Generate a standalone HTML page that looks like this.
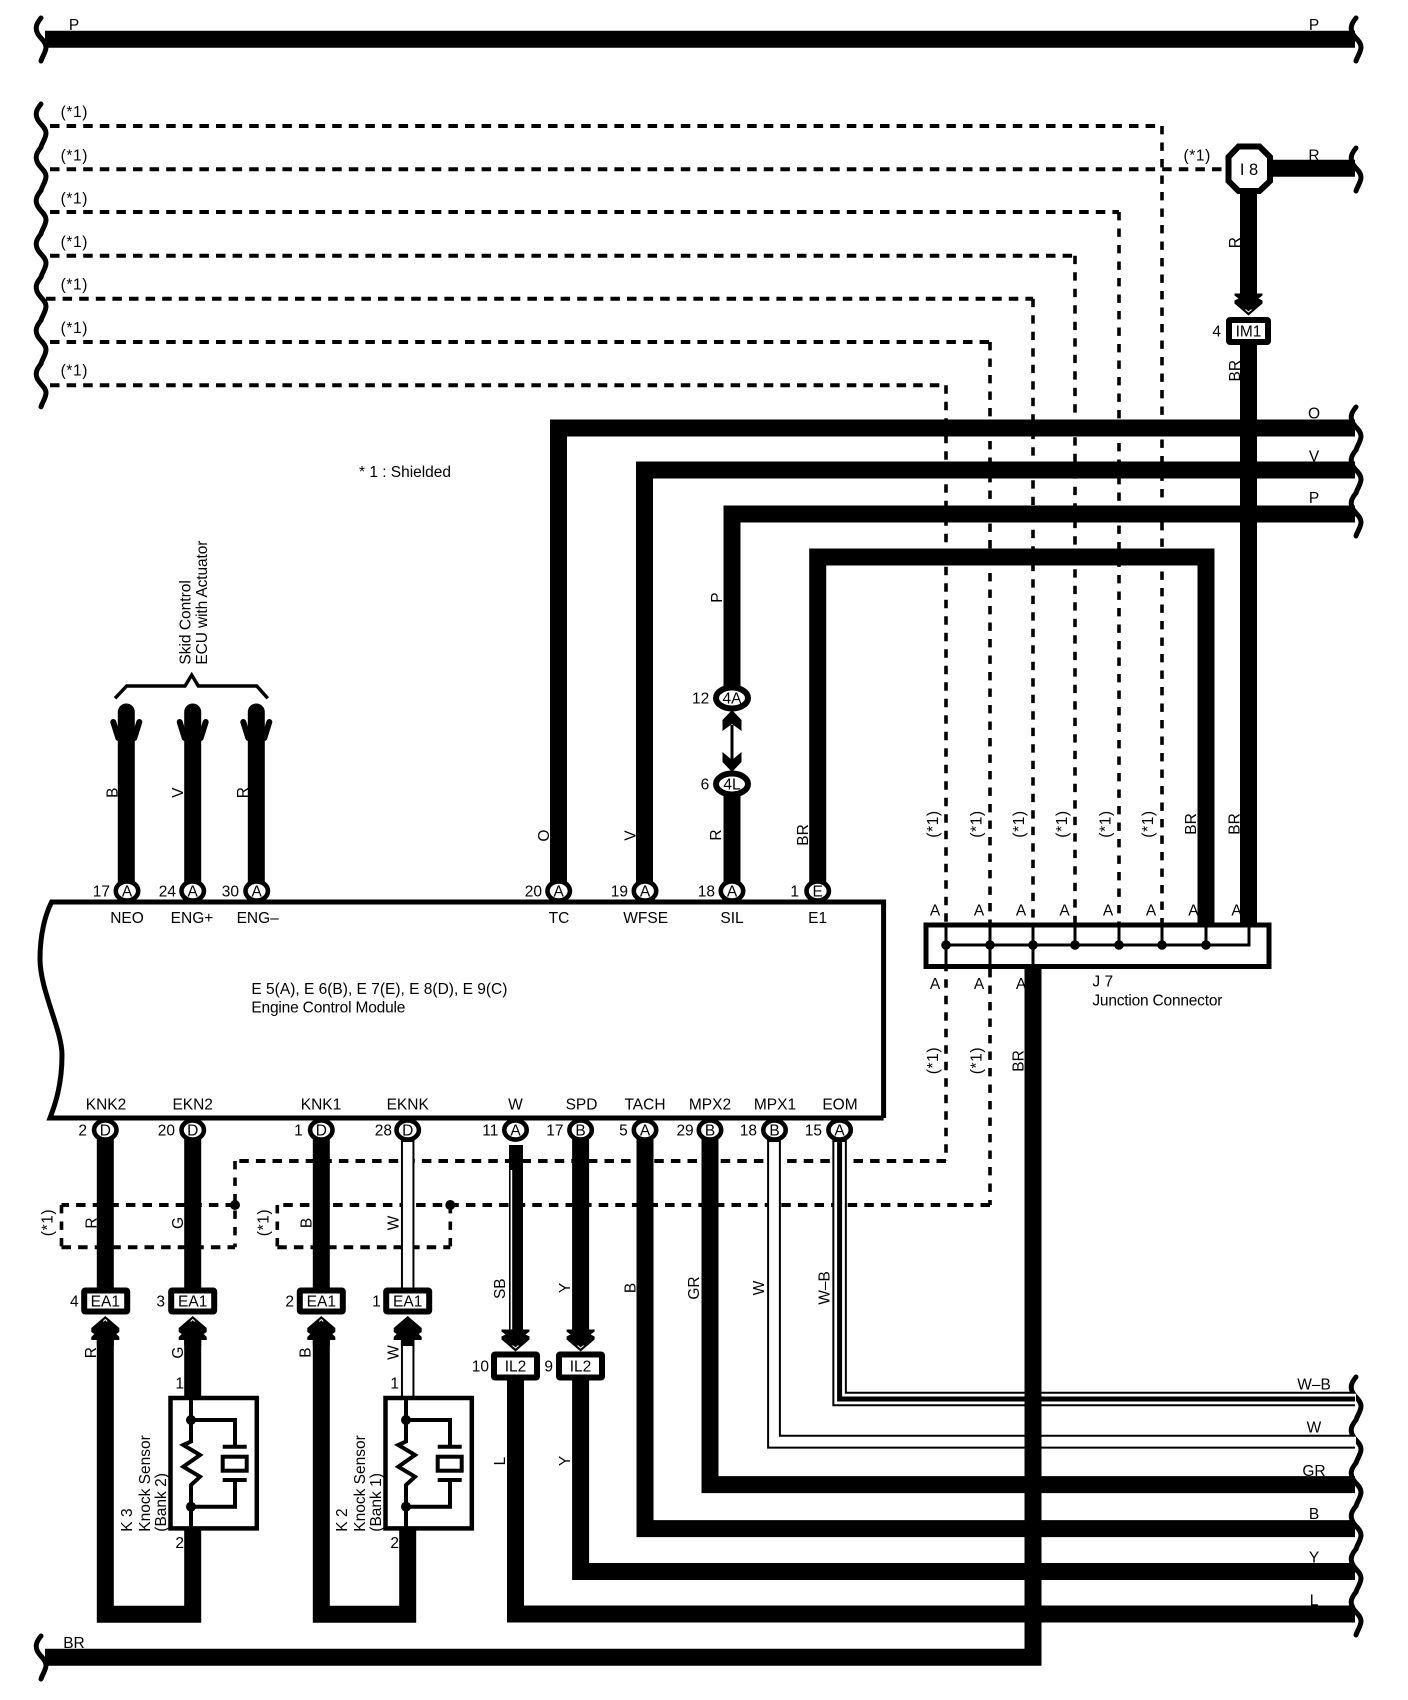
<!DOCTYPE html>
<html><head><meta charset="utf-8"><style>
html,body{margin:0;padding:0;background:#fff}
svg{display:block}
text{font-family:"Liberation Sans",sans-serif;font-size:15.5px;fill:#000}
.m{text-anchor:middle}.e{text-anchor:end}
.s{letter-spacing:.6px}
.w{fill:none;stroke:#000;stroke-width:17}
.t{fill:none;stroke:#000;stroke-width:4}
.d{fill:none;stroke:#000;stroke-width:4;stroke-dasharray:9.5 7.1}
.v{fill:none;stroke:#000;stroke-width:3.6;stroke-dasharray:8.4 8.1}
.o{fill:#fff;stroke:#000;stroke-width:6}
.c{fill:#fff;stroke:#000;stroke-width:4.6}
</style></head><body>
<svg width="1408" height="1700" viewBox="0 0 1408 1700" xmlns="http://www.w3.org/2000/svg">
<defs>
<path id="sq" d="M41,0 C37,5 35,9 37,14 C39,20 46,23 46,29 C46,34 43,37 41,43" fill="none" stroke="#000" stroke-width="5" stroke-linecap="round"/>
<g id="up"><polygon points="0,0 14,12 14,16 11,18 14,21 14,24 8.5,24 8.5,30 -8.5,30 -8.5,24 -14,24 -14,21 -11,18 -14,16 -14,12" fill="#000"/><polyline points="-2,5.5 0,3.5 2,5.5" fill="none" stroke="#fff" stroke-width="1"/></g>
<g id="dn"><polygon points="0,0 14,-12 14,-15 10,-17 14,-20 14,-22 -14,-22 -14,-20 -10,-17 -14,-15 -14,-12" fill="#000"/><polyline points="-3,-6 0,-3.5 3,-6" fill="none" stroke="#fff" stroke-width="1"/></g>
<g id="fork"><path d="M-8,34 L-13,18 M8,34 L13,18" fill="none" stroke="#000" stroke-width="6" stroke-linecap="round"/></g>
<g id="sens">
<rect x="-22.2" y="0" width="86.3" height="130.4" fill="#fff" stroke="#000" stroke-width="4.5"/>
<path class="t" d="M-1.7,0 V43.5 L-9.4,47 L7.3,57 L-9.4,68.7 L7.3,78.7 L-1.7,87 V132"/>
<path class="t" d="M-1.7,22 H42.3 V48.7 M30,48.7 H54 M30,82 H54 M42.3,82 V108.7 H-1.7"/>
<rect x="30" y="58.7" width="24" height="14" fill="#fff" stroke="#000" stroke-width="4"/>
<circle cx="-1.7" cy="22" r="5" fill="#000"/><circle cx="-1.7" cy="108.7" r="5" fill="#000"/>
</g>
</defs>

<!-- dashed lines -->
<path class="d" d="M50,126 H1162 M50,169.3 H1226 M50,212 H1119 M50,255.7 H1075 M46,298.7 H1033 M50,342 H990 M50,385.3 H946"/>
<path class="v" d="M1162,126 V923 M1119,212 V923 M1075,255.7 V923 M1033,298.7 V923 M990,342 V1205 M946,385.3 V1161"/>
<path class="d" d="M946,1161 H235 M990,1205 H277.3 M235,1205 H61.5 M61.5,1247.3 H235 M277.3,1247.3 H450.3"/>
<path class="v" d="M235,1161 V1247.3 M61.5,1205 V1247.3 M277.3,1205 V1247.3 M450.3,1205 V1247.3"/>
<circle cx="235" cy="1205" r="5" fill="#000"/><circle cx="450.3" cy="1205" r="5" fill="#000"/>

<!-- squiggles -->
<use href="#sq" x="0" y="18"/>
<use href="#sq" x="0" y="104"/><use href="#sq" x="0" y="147.3"/><use href="#sq" x="0" y="190.6"/><use href="#sq" x="0" y="233.9"/><use href="#sq" x="0" y="277.2"/><use href="#sq" x="0" y="320.5"/><use href="#sq" x="0" y="363.8"/>
<use href="#sq" x="0" y="1636"/>
<use href="#sq" x="1315" y="18"/><use href="#sq" x="1315" y="148"/>
<use href="#sq" x="1315" y="407"/><use href="#sq" x="1315" y="450"/><use href="#sq" x="1315" y="493"/>
<use href="#sq" x="1315" y="1377"/><use href="#sq" x="1315" y="1420"/><use href="#sq" x="1315" y="1463"/><use href="#sq" x="1315" y="1506"/><use href="#sq" x="1315" y="1549"/><use href="#sq" x="1315" y="1592"/>

<!-- thick wires -->
<path class="w" d="M45,39.3 H1355"/>
<path class="w" d="M1249,168.3 H1355"/>
<path class="w" d="M558.5,891 V428 H1355"/>
<path class="w" d="M644.5,891 V470 H1355"/>
<path class="w" d="M732,698 V514 H1355"/>
<path class="w" d="M817.7,891 V557 H1206 V923"/>
<path class="w" d="M1248.5,190 V298 M1248.5,330 V923"/>
<path class="w" d="M732,784 V891"/>
<path class="t" style="stroke-width:3" d="M732,725 V760"/>
<path class="w" stroke-linecap="round" d="M126.3,712 V891 M192.7,712 V891 M256.3,712 V891"/>
<use href="#fork" x="126.3" y="704"/><use href="#fork" x="192.7" y="704"/><use href="#fork" x="256.3" y="704"/>
<polygon points="732,710 741.5,720 741.5,731 732,724 722.5,731 722.5,720" fill="#000"/>
<polygon points="722.5,752 732,760 741.5,752 741.5,762 732,772 722.5,762" fill="#000"/>
<polyline points="115,698.3 126.7,686 185,686 191.7,675 198.3,686 256.7,686 267.7,698.3" fill="none" stroke="#000" stroke-width="3.4"/>

<path class="w" d="M105.3,1130 V1295 M105.3,1335 V1614.3 H192.7 V1530 M192.7,1130 V1295 M192.7,1335 V1396"/>
<path class="w" d="M321.3,1130 V1295 M321.3,1335 V1614.3 H407.7 V1530"/>
<path class="w" d="M580.6,1130 V1335 M580.6,1370 V1571.5 H1355"/>
<path class="w" d="M645,1130 V1528.6 H1355"/>
<path class="w" d="M710,1130 V1484.6 H1355"/>
<path class="w" d="M515.5,1370 V1614 H1355"/>
<!-- SB -->
<rect x="509" y="1145" width="14" height="190" fill="#000"/><rect x="510.6" y="1170" width="1.6" height="160" fill="#fff"/>
<!-- white wires -->
<path fill="none" stroke="#000" stroke-width="13.5" d="M407.7,1130 V1295 M407.7,1330 V1396"/>
<path fill="none" stroke="#fff" stroke-width="9.5" d="M407.7,1142 V1290 M407.7,1346 V1396"/>
<path fill="none" stroke="#000" stroke-width="13.8" d="M774,1130 V1441.7 H1355"/>
<path fill="none" stroke="#fff" stroke-width="9.8" d="M774,1142 V1441.7 H1356"/>
<path fill="none" stroke="#000" stroke-width="14.5" d="M839.6,1130 V1399 H1355"/>
<path fill="none" stroke="#fff" stroke-width="10.5" d="M839.6,1142 V1399 H1356"/>
<path fill="none" stroke="#000" stroke-width="5" d="M839.6,1130 V1399 H1355"/>

<!-- J7 -->
<rect x="926" y="925" width="343" height="41.5" fill="#fff" stroke="#000" stroke-width="5"/>
<path class="t" style="stroke-width:3" d="M946,923 V968 M990,923 V968 M1033,923 V968 M1075,923 V945 M1119,923 V945 M1162,923 V945 M1206,923 V945 M946,945 H1249 V923"/>
<circle cx="946" cy="945" r="4.8"/><circle cx="990" cy="945" r="4.8"/><circle cx="1033" cy="945" r="4.8"/><circle cx="1075" cy="945" r="4.8"/><circle cx="1119" cy="945" r="4.8"/><circle cx="1162" cy="945" r="4.8"/><circle cx="1206" cy="945" r="4.8"/>
<path class="w" d="M1033,966 V1657.3 H45"/>

<!-- ECM -->
<path fill="none" stroke="#000" stroke-width="5" d="M883.6,1118 H50 C55,1105 62,1085 62,1055 C62,1030 40,990 40,959 C40,935 45,915 51.6,902 H883.6 V1118"/>

<!-- connectors -->
<g class="c">
<ellipse cx="127" cy="891" rx="11.2" ry="9.6"/><ellipse cx="192.7" cy="891" rx="11.2" ry="9.6"/><ellipse cx="256.7" cy="891" rx="11.2" ry="9.6"/><ellipse cx="558.7" cy="891" rx="11.2" ry="9.6"/><ellipse cx="645" cy="891" rx="11.2" ry="9.6"/><ellipse cx="732" cy="891" rx="11.2" ry="9.6"/><ellipse cx="817.7" cy="891" rx="11.2" ry="9.6"/>
<ellipse cx="105.3" cy="1130" rx="11.2" ry="9.6"/><ellipse cx="192.7" cy="1130" rx="11.2" ry="9.6"/><ellipse cx="321.3" cy="1130" rx="11.2" ry="9.6"/><ellipse cx="407.7" cy="1130" rx="11.2" ry="9.6"/><ellipse cx="515.5" cy="1130" rx="11.2" ry="9.6"/><ellipse cx="580.6" cy="1130" rx="11.2" ry="9.6"/><ellipse cx="645" cy="1130" rx="11.2" ry="9.6"/><ellipse cx="710" cy="1130" rx="11.2" ry="9.6"/><ellipse cx="774.5" cy="1130" rx="11.2" ry="9.6"/><ellipse cx="839.6" cy="1130" rx="11.2" ry="9.6"/>
</g>
<g class="o">
<ellipse cx="732" cy="698" rx="16" ry="10.5"/><ellipse cx="732" cy="784" rx="16" ry="10.5"/>
<polygon points="1238.5,146.5 1259.5,146.5 1270,157 1270,181 1259.5,191 1238.5,191 1228.5,181 1228.5,157"/>
<rect x="84.2" y="1290.5" width="43" height="21" rx="1"/><rect x="171.2" y="1290.5" width="43" height="21" rx="1"/><rect x="299.8" y="1290.5" width="43" height="21" rx="1"/><rect x="386.2" y="1290.5" width="43" height="21" rx="1"/>
<rect x="494" y="1354.5" width="43" height="23" rx="1"/><rect x="559" y="1354.5" width="43" height="23" rx="1"/>
<rect x="1229" y="320" width="39" height="22" rx="1"/>
</g>
<use href="#up" x="105.3" y="1316"/><use href="#up" x="192.7" y="1316"/><use href="#up" x="321.3" y="1316"/>
<polygon points="407.7,1316 421.7,1328 421.7,1332 418.7,1334 421.7,1337 421.7,1340 414.5,1340 414.5,1346 400.9,1346 400.9,1340 393.7,1340 393.7,1337 396.7,1334 393.7,1332 393.7,1328" fill="#000"/>
<use href="#dn" x="515.5" y="1351.5"/><use href="#dn" x="580.6" y="1351.5"/><use href="#dn" x="1248.5" y="315.5"/>
<use href="#sens" x="192.7" y="1398"/><use href="#sens" x="407.7" y="1398"/>

<!-- text -->
<text class="m" x="74" y="30">P</text><text class="m" x="1314" y="30">P</text>
<text class="m" x="1314" y="160.5">R</text><text class="m" x="1314" y="418.5">O</text><text class="m" x="1314" y="461.5">V</text><text class="m" x="1314" y="503">P</text>
<text class="m" x="1314" y="1389.5">W–B</text><text class="m" x="1314" y="1432.5">W</text><text class="m" x="1314" y="1476">GR</text><text class="m" x="1314" y="1519">B</text><text class="m" x="1314" y="1562.5">Y</text><text class="m" x="1314" y="1605.5">L</text>
<text class="m" x="74" y="1648">BR</text>

<text class="s" x="60.6" y="117">(*1)</text><text class="s" x="60.6" y="160.5">(*1)</text><text class="s" x="60.6" y="203.5">(*1)</text><text class="s" x="60.6" y="247">(*1)</text><text class="s" x="60.6" y="289.5">(*1)</text><text class="s" x="60.6" y="333">(*1)</text><text class="s" x="60.6" y="375.5">(*1)</text>
<text class="s" x="1183.5" y="160.5">(*1)</text>
<text x="359" y="477" textLength="92">* 1 : Shielded</text>
<text class="m" x="1249" y="174.8" style="font-size:16.5px">I 8</text>
<text class="m" x="1248.5" y="336.5">IM1</text><text class="e" x="1221" y="336.5">4</text>

<text x="251.4" y="994" textLength="256">E 5(A), E 6(B), E 7(E), E 8(D), E 9(C)</text>
<text x="251.4" y="1012.5" textLength="154">Engine Control Module</text>
<text x="1092.4" y="986.5">J 7</text>
<text x="1092.4" y="1005.5" textLength="130">Junction Connector</text>

<g class="m">
<text class="m" x="127" y="896.5">A</text><text class="m" x="192.7" y="896.5">A</text><text class="m" x="256.7" y="896.5">A</text><text class="m" x="558.7" y="896.5">A</text><text class="m" x="645" y="896.5">A</text><text class="m" x="732" y="896.5">A</text><text class="m" x="817.7" y="896.5">E</text>
<text class="m" x="127" y="923">NEO</text><text class="m" x="192" y="923">ENG+</text><text class="m" x="257.7" y="923">ENG–</text><text class="m" x="559" y="923">TC</text><text class="m" x="645.7" y="923">WFSE</text><text class="m" x="732" y="923">SIL</text><text class="m" x="817.6" y="923">E1</text>
<text class="m" x="106" y="1109.5">KNK2</text><text class="m" x="192.7" y="1109.5">EKN2</text><text class="m" x="321" y="1109.5">KNK1</text><text class="m" x="407.7" y="1109.5">EKNK</text><text class="m" x="515.5" y="1109.5">W</text><text class="m" x="581.5" y="1109.5">SPD</text><text class="m" x="645" y="1109.5">TACH</text><text class="m" x="710" y="1109.5">MPX2</text><text class="m" x="775" y="1109.5">MPX1</text><text class="m" x="840" y="1109.5">EOM</text>
<text class="m" x="105.3" y="1135.5">D</text><text class="m" x="192.7" y="1135.5">D</text><text class="m" x="321.3" y="1135.5">D</text><text class="m" x="407.7" y="1135.5">D</text><text class="m" x="515.5" y="1135.5">A</text><text class="m" x="580.6" y="1135.5">B</text><text class="m" x="645" y="1135.5">A</text><text class="m" x="710" y="1135.5">B</text><text class="m" x="774.5" y="1135.5">B</text><text class="m" x="839.6" y="1135.5">A</text>
<text class="m" x="732" y="703.5">4A</text><text class="m" x="732" y="789.5">4L</text>
<text class="m" x="105.3" y="1306.5">EA1</text><text class="m" x="192.7" y="1306.5">EA1</text><text class="m" x="321.3" y="1306.5">EA1</text><text class="m" x="407.7" y="1306.5">EA1</text>
<text class="m" x="515.5" y="1371.5">IL2</text><text class="m" x="580.5" y="1371.5">IL2</text>
<text class="m" x="935" y="915.5">A</text><text class="m" x="979" y="915.5">A</text><text class="m" x="1021" y="915.5">A</text><text class="m" x="1064.5" y="915.5">A</text><text class="m" x="1108" y="915.5">A</text><text class="m" x="1151" y="915.5">A</text><text class="m" x="1193.4" y="915.5">A</text><text class="m" x="1236.5" y="915.5">A</text>
<text class="m" x="935" y="989">A</text><text class="m" x="979" y="989">A</text><text class="m" x="1021" y="989">A</text>
</g>
<text class="e" x="110" y="896.5">17</text><text class="e" x="176" y="896.5">24</text><text class="e" x="239" y="896.5">30</text><text class="e" x="542" y="896.5">20</text><text class="e" x="628" y="896.5">19</text><text class="e" x="715" y="896.5">18</text><text class="e" x="799" y="896.5">1</text>
<text class="e" x="709.3" y="703.5">12</text><text class="e" x="709.3" y="789.5">6</text>
<text class="e" x="87" y="1135.5">2</text><text class="e" x="175" y="1135.5">20</text><text class="e" x="302.7" y="1135.5">1</text><text class="e" x="392" y="1135.5">28</text><text class="e" x="498.4" y="1135.5">11</text><text class="e" x="563.5" y="1135.5">17</text><text class="e" x="627.7" y="1135.5">5</text><text class="e" x="693.7" y="1135.5">29</text><text class="e" x="757" y="1135.5">18</text><text class="e" x="822" y="1135.5">15</text>
<text class="e" x="78.6" y="1306.5">4</text><text class="e" x="165" y="1306.5">3</text><text class="e" x="294" y="1306.5">2</text><text class="e" x="380.8" y="1306.5">1</text>
<text class="e" x="489" y="1371.5">10</text><text class="e" x="553" y="1371.5">9</text>
<text class="e" x="184" y="1388.5">1</text><text class="e" x="184" y="1548">2</text><text class="e" x="399" y="1388.5">1</text><text class="e" x="399" y="1548">2</text>

<!-- rotated labels -->
<text class="m" transform="translate(117.5,792.7) rotate(-90)">B</text>
<text class="m" transform="translate(183,792.7) rotate(-90)">V</text>
<text class="m" transform="translate(248,792.7) rotate(-90)">R</text>
<text class="m" transform="translate(549,835.6) rotate(-90)">O</text>
<text class="m" transform="translate(635.5,835.6) rotate(-90)">V</text>
<text class="m" transform="translate(722,597.6) rotate(-90)">P</text>
<text class="m" transform="translate(721,835) rotate(-90)">R</text>
<text class="m" transform="translate(808,835) rotate(-90)">BR</text>
<text class="m" transform="translate(1240,242.7) rotate(-90)">R</text>
<text class="m" transform="translate(1240,370.7) rotate(-90)">BR</text>
<text class="m s" transform="translate(938,824) rotate(-90)">(*1)</text>
<text class="m s" transform="translate(981.5,824) rotate(-90)">(*1)</text>
<text class="m s" transform="translate(1024,824) rotate(-90)">(*1)</text>
<text class="m s" transform="translate(1067,824) rotate(-90)">(*1)</text>
<text class="m s" transform="translate(1110.5,824) rotate(-90)">(*1)</text>
<text class="m s" transform="translate(1153,824) rotate(-90)">(*1)</text>
<text class="m" transform="translate(1196,824) rotate(-90)">BR</text>
<text class="m" transform="translate(1239.5,824) rotate(-90)">BR</text>
<text class="m s" transform="translate(938,1060.6) rotate(-90)">(*1)</text>
<text class="m s" transform="translate(981.5,1060.6) rotate(-90)">(*1)</text>
<text class="m" transform="translate(1023.5,1061) rotate(-90)">BR</text>
<text class="m s" transform="translate(52.5,1222.5) rotate(-90)">(*1)</text>
<text class="m s" transform="translate(268.5,1222.5) rotate(-90)">(*1)</text>
<text class="m" transform="translate(96.5,1223) rotate(-90)">R</text>
<text class="m" transform="translate(183,1223) rotate(-90)">G</text>
<text class="m" transform="translate(311.5,1223) rotate(-90)">B</text>
<text class="m" transform="translate(398.5,1223) rotate(-90)">W</text>
<text class="m" transform="translate(96,1352.6) rotate(-90)">R</text>
<text class="m" transform="translate(183,1352.6) rotate(-90)">G</text>
<text class="m" transform="translate(310.5,1352.6) rotate(-90)">B</text>
<text class="m" transform="translate(398.5,1352.6) rotate(-90)">W</text>
<text class="m" transform="translate(505,1288.7) rotate(-90)">SB</text>
<text class="m" transform="translate(570,1288) rotate(-90)">Y</text>
<text class="m" transform="translate(635.5,1288) rotate(-90)">B</text>
<text class="m" transform="translate(699,1288) rotate(-90)">GR</text>
<text class="m" transform="translate(764,1288) rotate(-90)">W</text>
<text class="m" transform="translate(829.5,1288) rotate(-90)">W–B</text>
<text class="m" transform="translate(505,1461) rotate(-90)">L</text>
<text class="m" transform="translate(570,1461) rotate(-90)">Y</text>
<text transform="translate(190.5,664.6) rotate(-90)">Skid Control</text>
<text transform="translate(207,664.6) rotate(-90)" textLength="124">ECU with Actuator</text>
<text transform="translate(132,1531.7) rotate(-90)">K 3</text>
<text transform="translate(150,1531.7) rotate(-90)">Knock Sensor</text>
<text transform="translate(166,1531.7) rotate(-90)">(Bank 2)</text>
<text transform="translate(347,1531.7) rotate(-90)">K 2</text>
<text transform="translate(365,1531.7) rotate(-90)">Knock Sensor</text>
<text transform="translate(381,1531.7) rotate(-90)">(Bank 1)</text>
</svg>
</body></html>
